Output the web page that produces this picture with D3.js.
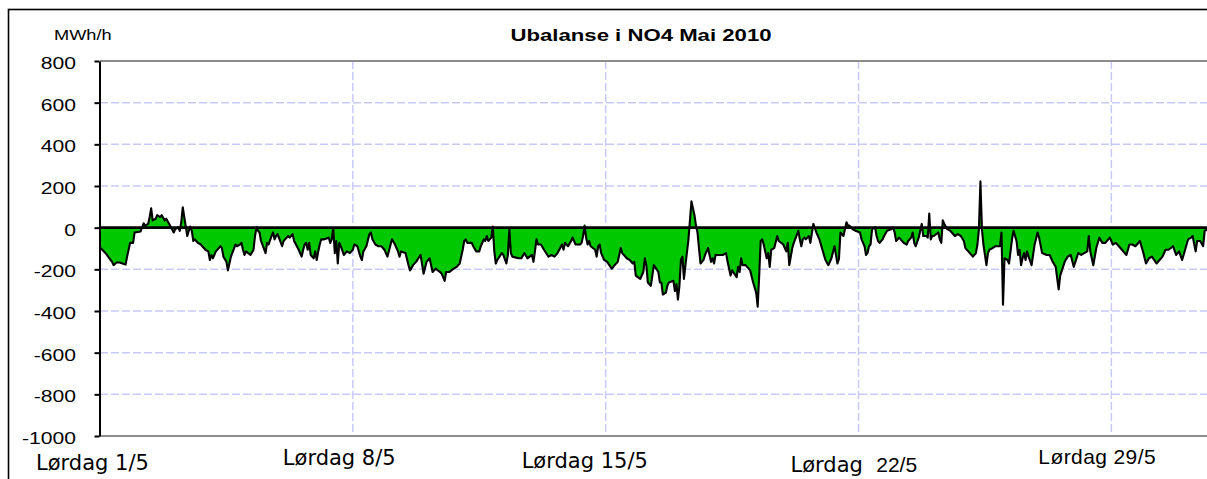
<!DOCTYPE html>
<html>
<head>
<meta charset="utf-8">
<script src="https://cdn.jsdelivr.net/npm/d3@7"></script>
<style>
  html, body { margin: 0; padding: 0; background: #fff; }
  svg { display: block; }
</style>
</head>
<body>
<svg id="chart" width="1207" height="479"></svg>
<script>
// Ubalanse i NO4, mai 2010 — timeverdier lest av bildet (time fra 1/5 kl 00)
const hours = [
  0, 2, 4, 6, 8, 9, 11, 13, 15, 17, 18, 20, 22, 23, 27, 28, 29, 30, 32, 33, 34, 35, 37, 38, 40, 41, 43, 44, 46, 49,
  50, 52, 53, 54, 55, 56, 58, 59, 60, 61, 62, 63, 65, 67, 70, 72, 73, 74, 75, 77, 80, 81, 82, 84, 85, 86, 87, 90, 91, 93,
  94, 95, 96, 97, 100, 102, 103, 104, 105, 106, 107, 110, 111, 112, 114, 115, 116, 117, 118, 121, 122, 123, 125, 126, 127, 128, 129, 132, 134, 135,
  136, 137, 138, 139, 140, 142, 143, 144, 145, 146, 147, 149, 152, 153, 154, 155, 156, 157, 158, 159, 160, 162, 164, 166, 168, 169, 171, 173, 174, 175,
  177, 179, 180, 181, 183, 185, 187, 189, 191, 194, 196, 198, 199, 200, 203, 205, 206, 208, 210, 213, 215, 217, 219, 221, 223, 226, 227, 229, 230, 232,
  235, 237, 239, 241, 242, 243, 244,
  247, 248, 250, 252, 253, 255, 256, 257, 258, 259, 260, 261, 262, 263, 264, 267, 268, 270, 271, 272, 273, 274, 278, 280, 282, 284, 287, 288, 289, 290,
  291, 293, 295, 298, 300, 302, 304, 307, 308, 309, 311, 313, 314, 316, 319, 320, 321, 322, 323, 324, 325, 326, 329, 330, 331, 332, 333, 335, 337, 340,
  342, 344, 345, 346, 347, 350, 352, 354, 355, 356, 359, 361, 362, 363, 364, 366, 367, 368, 371, 372, 373, 374, 376, 377, 378, 381, 382, 383, 384, 385,
  386, 387, 388, 389, 391, 392, 393, 395, 396, 397, 398, 399, 401, 402, 404, 406, 407, 408, 409, 412, 414, 416, 417, 419, 420, 423, 424, 425, 426, 427,
  429, 432, 434, 436, 437, 438, 439, 440, 441, 443, 444, 445, 446, 448, 450, 451, 454, 456, 457, 458, 460, 461, 464, 465, 466, 467, 468, 469, 471, 472,
  474, 476, 478, 480, 482, 484, 486, 488,
  489, 490, 491, 492, 494, 495, 496, 497, 498, 500, 502, 505, 506, 508, 509, 510, 511, 512, 513, 515, 516, 517, 518, 520, 521, 523, 526, 527, 528, 529,
  531, 532, 534, 536, 537, 539, 540, 541, 542, 544, 546, 547, 549, 550, 551, 552, 553, 554, 557, 558, 559, 560, 561, 563, 565, 568, 570, 572, 574, 575,
  578, 580, 582, 583, 584, 585, 586, 587, 589, 590, 591, 593, 595, 598, 599, 600, 601, 603, 604, 606, 607, 609, 610, 611, 612, 613, 614, 615, 616, 617,
  619, 621, 623, 624, 626, 629, 631, 633, 635, 637, 638, 641, 643, 645, 647, 650, 652, 654, 656, 657, 658, 660, 662, 664, 666, 668, 671, 673, 675, 677,
  679, 682, 684, 686, 688, 691, 693, 695, 697, 699, 702, 704, 706, 708, 710, 713, 715, 717, 719, 720, 723, 725, 726, 728, 729, 731, 733, 734, 736
];
const mwh = [
  -95, -110, -125, -145, -164, -180, -167, -167, -172, -177, -139, -73, -73, -23, -18, 2, 21, 10, 18, 51, 93, 35, 43, 60, 51, 60, 35, 43, 18, -23,
  -7, 2, -15, 26, 98, 51, -40, -15, 5, -15, -64, -56, -73, -81, -106, -114, -155, -131, -147, -114, -89, -98, -139, -164, -205, -172, -139, -81, -89, -81,
  -73, -106, -131, -114, -131, -106, -40, 2, -15, -23, -64, -122, -73, -81, -40, -23, -56, -40, -31, -89, -64, -56, -40, -48, -40, -31, -64, -106, -139, -106,
  -81, -73, -106, -73, -131, -147, -114, -155, -114, -81, -56, -56, -48, -73, -56, -2, -122, -64, -172, -73, -89, -131, -114, -122, -106, -81, -89, -139, -155, -114,
  -89, -31, -23, -56, -81, -89, -89, -106, -139, -56, -81, -114, -139, -114, -122, -180, -205, -180, -164, -131, -221, -164, -147, -213, -197, -213, -221, -255, -213, -213,
  -197, -188, -172, -106, -64, -56, -73,
  -73, -89, -114, -114, -89, -56, -64, -40, -64, -56, -48, 5, -114, -172, -155, -122, -131, -172, -131, -7, -122, -139, -147, -147, -122, -147, -131, -164, -114, -56,
  -81, -81, -106, -139, -131, -139, -122, -81, -106, -73, -89, -64, -48, -81, -81, -73, -40, 10, -48, -81, -64, -89, -106, -139, -89, -81, -122, -155, -164, -197,
  -180, -164, -131, -98, -122, -147, -155, -172, -164, -230, -246, -213, -147, -180, -263, -279, -230, -180, -213, -263, -263, -321, -312, -279, -263, -255, -304, -271, -345, -279,
  -155, -139, -246, -180, -56, 35, 126, 60, 10, -23, -98, -172, -155, -131, -98, -164, -147, -172, -131, -131, -131, -122, -164, -230, -205, -238, -188, -213, -147, -180,
  -180, -205, -263, -312, -379, -230, -64, -56, -81, -147, -122, -188, -106, -98, -40, -64, -81, -114, -73, -180, -98, -73, -15, -56, -89, -56, -48, -56, -40, -73,
  18, -23, -56, -106, -155, -180, -147, -89,
  -130, -172, -150, -23, -40, -7, 26, 10, 10, -7, -15, -23, -56, -89, -131, -122, -89, -81, -7, 2, -40, -64, -73, -56, -40, -15, -7, 2, -23, -64,
  -48, -56, -73, -81, -64, -48, -23, -73, -89, -48, 18, -40, -40, -48, 68, -56, -40, -40, -23, -56, -73, 35, 18, -7, -15, -40, -31, -40, -64, -98,
  -122, -139, -122, -81, -7, 222, -7, -81, -180, -122, -106, -98, -89, -89, -23, -370, -147, -155, -172, -56, -15, -64, -131, -106, -180, -147, -122, -155, -114, -139,
  -180, -81, -23, -48, -122, -131, -131, -164, -188, -296, -230, -164, -139, -131, -188, -122, -131, -122, -114, -40, -114, -180, -98, -48, -73, -73, -48, -81, -73, -89,
  -106, -131, -81, -81, -89, -64, -114, -172, -147, -139, -172, -155, -139, -106, -106, -89, -131, -114, -155, -131, -56, -48, -40, -114, -64, -64, -89, -15, -10
];

const yTicks = [800, 600, 400, 200, 0, -200, -400, -600, -800, -1000];
const weekHours = [0, 168, 336, 504, 672];
const weekDays = ["Lørdag", "Lørdag", "Lørdag", "Lørdag", "Lørdag"];
const weekDates = ["1/5", "8/5", "15/5", "22/5", "29/5"];

// layout
const W = 1207, H = 479;
const plot = { left: 100, top: 61, bottom: 436 };
const dayPx = 36.12;
const labelDx = [-64, -70, -84, -68, -73];
const labelY = [470, 465, 468, 472, 464];
const stretch = 1.32; // teksten i originalen er strukket horisontalt

const svg = d3.select("#chart");

svg.append("defs").append("clipPath")
  .attr("id", "clip")
  .append("rect")
  .attr("x", 0).attr("y", 0).attr("width", W).attr("height", H);

const root = svg.append("g").attr("clip-path", "url(#clip)");

// ytre ramme (fortsetter utenfor bildet)
root.append("rect")
  .attr("x", 8.5).attr("y", 9.5)
  .attr("width", W + 20).attr("height", H + 20)
  .attr("fill", "none")
  .attr("stroke", "#000")
  .attr("stroke-width", 1.6);

const x = d3.scaleLinear()
  .domain([0, 744])
  .range([plot.left, plot.left + 31 * dayPx]);

const y = d3.scaleLinear()
  .domain([-1000, 800])
  .range([plot.bottom, plot.top]);

const xEnd = x(744);

// horisontalt rutenett
root.append("g")
  .selectAll("line")
  .data(yTicks.filter(d => d !== 800 && d !== -1000 && d !== 0))
  .join("line")
  .attr("x1", plot.left).attr("x2", xEnd)
  .attr("y1", d => y(d)).attr("y2", d => y(d))
  .attr("stroke", "#c9c9f7")
  .attr("stroke-width", 1.5)
  .attr("stroke-dasharray", "8,3");

// vertikalt rutenett per uke
root.append("g")
  .selectAll("line")
  .data(weekHours.slice(1))
  .join("line")
  .attr("x1", d => x(d)).attr("x2", d => x(d))
  .attr("y1", plot.top).attr("y2", plot.bottom)
  .attr("stroke", "#c9c9f7")
  .attr("stroke-width", 1.5)
  .attr("stroke-dasharray", "8,3");

// plottramme topp og bunn
[800, -1000].forEach(v => {
  root.append("line")
    .attr("x1", plot.left).attr("x2", xEnd)
    .attr("y1", y(v)).attr("y2", y(v))
    .attr("stroke", "#8c8c8c")
    .attr("stroke-width", 2);
});

const series = hours.map((h, i) => ({ h, v: mwh[i] }));

const area = d3.area()
  .x(d => x(d.h))
  .y0(y(0))
  .y1(d => y(d.v));

const line = d3.line()
  .x(d => x(d.h))
  .y(d => y(d.v));

root.append("path")
  .datum(series)
  .attr("d", area)
  .attr("fill", "#00c800");

root.append("path")
  .datum(series)
  .attr("d", line)
  .attr("fill", "none")
  .attr("stroke", "#000")
  .attr("stroke-width", 2.1)
  .attr("stroke-linejoin", "round");

// nullinje (x-akse)
const gx = root.append("g")
  .attr("transform", `translate(0,${y(0)})`)
  .call(d3.axisBottom(x).tickValues(weekHours).tickSize(0).tickFormat(""));
gx.select(".domain")
  .attr("d", `M${plot.left},0H${xEnd}`)
  .attr("stroke", "#000")
  .attr("stroke-width", 2.6);

// y-akse
const gy = root.append("g")
  .attr("transform", `translate(${plot.left - 0.5},0)`)
  .call(d3.axisLeft(y).tickValues(yTicks).tickSize(5).tickSizeOuter(0)
    .tickFormat(d => String(d)));
gy.select(".domain").attr("stroke", "#000").attr("stroke-width", 2);
gy.selectAll(".tick line").attr("stroke", "#000").attr("stroke-width", 2);
gy.selectAll(".tick text")
  .attr("x", -23.5 / stretch)
  .attr("y", 2)
  .attr("dy", "0.35em")
  .attr("transform", `scale(${stretch},1)`)
  .attr("fill", "#000")
  .attr("font-family", "'Liberation Sans', Arial, sans-serif")
  .attr("font-size", 16);

// enhet
root.append("text")
  .attr("transform", `translate(54,40) scale(${stretch},1)`)
  .attr("font-family", "'Liberation Sans', Arial, sans-serif")
  .attr("font-size", 13.8)
  .attr("fill", "#000")
  .text("MWh/h");

// tittel
root.append("text")
  .attr("transform", `translate(641,41) scale(${stretch},1)`)
  .attr("text-anchor", "middle")
  .attr("font-family", "'Liberation Sans', Arial, sans-serif")
  .attr("font-weight", "bold")
  .attr("font-size", 16.8)
  .attr("fill", "#000")
  .text("Ubalanse i NO4 Mai 2010");

// ukeetiketter
const labels = root.append("g");
weekHours.forEach((h, i) => {
  const t = labels.append("text")
    .attr("x", x(h) + labelDx[i])
    .attr("y", labelY[i])
    .attr("fill", "#000")
    .attr("font-size", 21);
  if (i < 3) {
    t.attr("font-family", "'DejaVu Sans', Verdana, sans-serif")
      .text(`${weekDays[i]} ${weekDates[i]}`);
  } else if (i === 3) {
    t.append("tspan")
      .attr("font-family", "'DejaVu Sans', Verdana, sans-serif")
      .text(weekDays[i] + "\u00a0 ");
    t.append("tspan")
      .attr("font-family", "'Liberation Sans', Arial, sans-serif")
      .text(weekDates[i]);
  } else {
    t.attr("font-family", "'Liberation Sans', Arial, sans-serif")
      .attr("letter-spacing", 0.4)
      .text(`${weekDays[i]} ${weekDates[i]}`);
  }
});
</script>
</body>
</html>
